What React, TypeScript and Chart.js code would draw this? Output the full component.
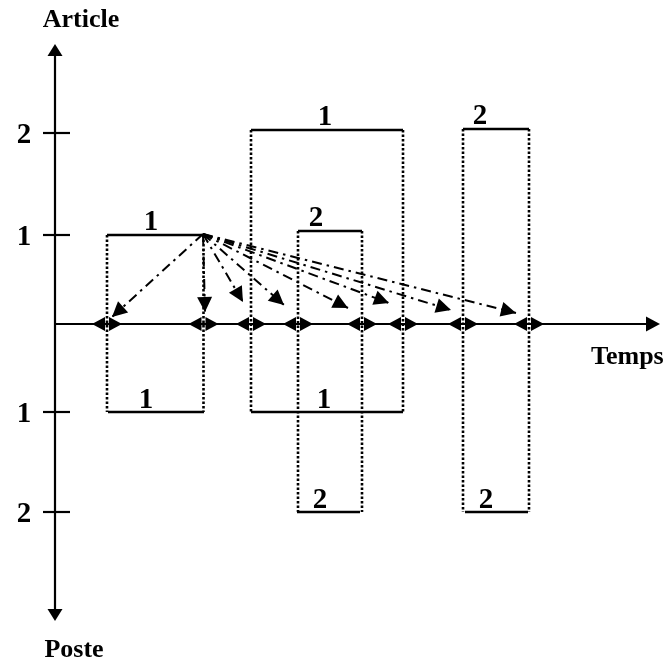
import React, { useEffect, useRef } from "react";
import { Chart, registerables } from "chart.js";

Chart.register(...registerables);

// ---- Data (time units along "Temps", level units along Article/Poste) ----
const articleBarLabels = ["1", "1", "2", "2"];
const articleBarStart = [5.2, 19.6, 24.3, 40.8];
const articleBarEnd = [14.85, 34.8, 30.7, 47.4];
const articleBarLevel = [0.89, 1.94, 0.93, 1.95];
const articleLabelAt = [9.6, 27.0, 26.1, 42.5];

const posteBarLabels = ["1", "1", "2", "2"];
const posteBarStart = [5.3, 19.6, 24.2, 41.0];
const posteBarEnd = [14.9, 34.8, 30.5, 47.3];
const posteBarLevel = [-0.88, -0.88, -1.88, -1.88];
const posteLabelAt = [9.1, 26.9, 26.5, 43.1];

const articleTickValues = [0.89, 1.91];
const articleTickLabels = ["1", "2"];
const posteTickValues = [-0.88, -1.88];
const posteTickLabels = ["1", "2"];

const arrowOriginT = 14.8;
const arrowOriginY = 0.9;
const arrowTargetT = [5.7, 15.0, 18.8, 22.9, 29.3, 33.4, 39.6, 46.1];
const arrowTargetY = [0.07, 0.12, 0.22, 0.19, 0.16, 0.21, 0.14, 0.11];

const timeAxisEnd = 60.5;
const articleAxisTop = 2.8;
const posteAxisBottom = -2.97;

const X_MIN = -5.5;
const X_MAX = 61.3;
const Y_MIN = -3.37;
const Y_MAX = 3.24;

const FONT_WORD = 'bold 26px "Liberation Serif", "Times New Roman", serif';
const FONT_DIGIT = 'bold 29px "Liberation Serif", "Times New Roman", serif';

type P = { x: number; y: number };

function seg(a: P, b: P, width: number, dash: number[] = []) {
  return {
    type: "line" as const,
    data: [a, b],
    showLine: true,
    borderColor: "#000",
    backgroundColor: "#000",
    borderWidth: width,
    borderDash: dash,
    borderCapStyle: "butt" as const,
    pointRadius: 0,
    pointHoverRadius: 0,
    fill: false,
    tension: 0,
  };
}

function tri(
  ctx: CanvasRenderingContext2D,
  tx: number,
  ty: number,
  angle: number,
  len: number,
  half: number
) {
  const bx = tx - Math.cos(angle) * len;
  const by = ty - Math.sin(angle) * len;
  const nx = -Math.sin(angle) * half;
  const ny = Math.cos(angle) * half;
  ctx.beginPath();
  ctx.moveTo(tx, ty);
  ctx.lineTo(bx + nx, by + ny);
  ctx.lineTo(bx - nx, by - ny);
  ctx.closePath();
  ctx.fill();
}

export default function App() {
  const ref = useRef<HTMLCanvasElement | null>(null);

  useEffect(() => {
    if (!ref.current) return;
    const datasets: any[] = [];

    // axes
    datasets.push(seg({ x: 0, y: 0 }, { x: timeAxisEnd - 1, y: 0 }, 2.2));
    datasets.push(seg({ x: 0, y: articleAxisTop - 0.08 }, { x: 0, y: posteAxisBottom + 0.08 }, 2.2));

    // ticks
    [...articleTickValues, ...posteTickValues].forEach((v) => {
      datasets.push(seg({ x: -1.2, y: v }, { x: 1.5, y: v }, 2.2));
    });

    // dotted connectors
    const DOT = [2.5, 2];
    articleBarStart.forEach((s, i) => {
      datasets.push(seg({ x: s, y: articleBarLevel[i] }, { x: s, y: posteBarLevel[i] }, 2.6, DOT));
      const e = articleBarEnd[i];
      datasets.push(seg({ x: e, y: articleBarLevel[i] }, { x: e, y: posteBarLevel[i] }, 2.6, DOT));
    });

    // bars
    articleBarStart.forEach((s, i) => {
      datasets.push(seg({ x: s, y: articleBarLevel[i] }, { x: articleBarEnd[i], y: articleBarLevel[i] }, 2.6));
    });
    posteBarStart.forEach((s, i) => {
      datasets.push(seg({ x: s, y: posteBarLevel[i] }, { x: posteBarEnd[i], y: posteBarLevel[i] }, 2.6));
    });

    // dash-dot arrows
    arrowTargetT.forEach((t, i) => {
      datasets.push(
        seg({ x: arrowOriginT, y: arrowOriginY }, { x: t, y: arrowTargetY[i] }, 2, [10, 5, 2.5, 5])
      );
    });

    const boundaries = Array.from(new Set([...articleBarStart, ...articleBarEnd])).sort((a, b) => a - b);

    const overlay = {
      id: "overlay",
      afterDatasetsDraw(chart: any) {
        const ctx: CanvasRenderingContext2D = chart.ctx;
        const xs = chart.scales.x;
        const ys = chart.scales.y;
        const px = (v: number) => xs.getPixelForValue(v);
        const py = (v: number) => ys.getPixelForValue(v);
        ctx.save();
        ctx.fillStyle = "#000";

        // axis arrowheads
        tri(ctx, px(timeAxisEnd), py(0), 0, 14, 7.5);
        tri(ctx, px(0), py(articleAxisTop), -Math.PI / 2, 12, 7.5);
        tri(ctx, px(0), py(posteAxisBottom), Math.PI / 2, 12, 7.5);

        // double arrowheads on time axis
        boundaries.forEach((b) => {
          const cx = px(b);
          const cy = py(0);
          tri(ctx, cx - 15, cy, Math.PI, 13, 7);
          tri(ctx, cx + 15, cy, 0, 13, 7);
        });

        // dash-dot arrowheads
        const ox = px(arrowOriginT);
        const oy = py(arrowOriginY);
        arrowTargetT.forEach((t, i) => {
          const tx = px(t);
          const ty = py(arrowTargetY[i]);
          tri(ctx, tx, ty, Math.atan2(ty - oy, tx - ox), 15, 7.5);
        });

        // bar labels
        ctx.font = FONT_DIGIT;
        ctx.textAlign = "center";
        ctx.textBaseline = "alphabetic";
        articleBarLabels.forEach((l, i) => {
          ctx.fillText(l, px(articleLabelAt[i]), py(articleBarLevel[i]) - 5);
        });
        posteBarLabels.forEach((l, i) => {
          ctx.fillText(l, px(posteLabelAt[i]), py(posteBarLevel[i]) - 4);
        });

        // tick labels
        articleTickLabels.forEach((l, i) => {
          ctx.fillText(l, px(-3.1), py(articleTickValues[i]) + 10);
        });
        posteTickLabels.forEach((l, i) => {
          ctx.fillText(l, px(-3.1), py(posteTickValues[i]) + 10);
        });

        // axis titles
        ctx.font = FONT_WORD;
        ctx.fillText("Article", px(2.6), py(2.97));
        ctx.fillText("Poste", px(1.9), py(-3.33));
        ctx.textAlign = "left";
        ctx.fillText("Temps", px(53.6), py(-0.4));

        ctx.restore();
      },
    };

    const chart = new Chart(ref.current, {
      type: "scatter",
      data: { datasets },
      options: {
        responsive: false,
        animation: false,
        events: [],
        layout: { padding: 0 },
        plugins: { legend: { display: false }, tooltip: { enabled: false }, title: { display: false } },
        scales: {
          x: { type: "linear", min: X_MIN, max: X_MAX, display: false },
          y: { type: "linear", min: Y_MIN, max: Y_MAX, display: false },
        },
      },
      plugins: [overlay],
    } as any);

    return () => chart.destroy();
  }, []);

  return (
    <div style={{ position: "fixed", left: 0, top: 0, width: 668, height: 661, background: "#fff" }}>
      <canvas ref={ref} width={668} height={661} style={{ display: "block", width: 668, height: 661 }} />
    </div>
  );
}
